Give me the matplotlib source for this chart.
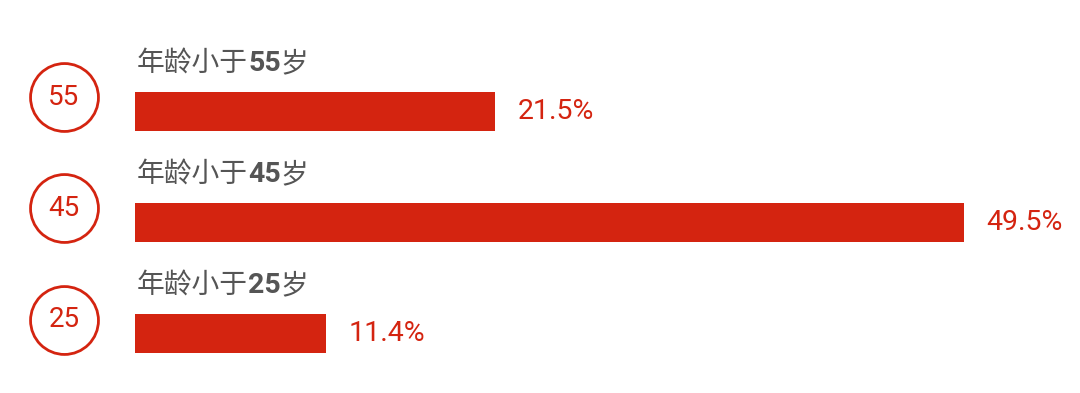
import matplotlib
matplotlib.use("Agg")
import matplotlib.pyplot as plt
from matplotlib.offsetbox import TextArea, HPacker, AnnotationBbox

# ---- data ----
ages = ["55", "45", "25"]
label_prefix = "年龄小于"
label_suffix = "岁"
values = [21.5, 49.5, 11.4]
value_labels = ["21.5%", "49.5%", "11.4%"]

# ---- style ----
RED = "#d42410"
GRAY = "#555555"
W, H, DPI = 1080, 393, 100

fig = plt.figure(figsize=(W / DPI, H / DPI), dpi=DPI)
ax = fig.add_axes([0, 0, 1, 1])
ax.set_axis_off()

# pixel layout -> data scale
x0_px = 135.0
px_per_unit = (964.0 - x0_px) / max(values)
row0_px = 111.5
row_px = 111.0
ax.set_xlim(-x0_px / px_per_unit, (W - x0_px) / px_per_unit)
ax.set_ylim((H - row0_px) / row_px, -row0_px / row_px)

ypos = list(range(len(ages)))
bar_h = 39.0 / row_px
ax.barh(ypos, values, height=bar_h, left=0, color=RED, edgecolor="none")

# percent labels
for y, v, lab in zip(ypos, values, value_labels):
    ax.annotate(lab, (v, y), xytext=(16, 0), textcoords="offset points",
                ha="left", va="center", fontsize=20.5, family="Roboto",
                color=RED)

# circles with age numbers
cx = (64 - x0_px) / px_per_unit
cdy = -14.0 / row_px
cy = [y + cdy for y in ypos]
ax.scatter([cx] * len(ages), cy, s=2390, facecolor="white",
           edgecolor=RED, linewidth=2.0, zorder=3)
for y, a in zip(cy, ages):
    ax.text(cx, y, a, ha="center", va="center", fontsize=20,
            family="Roboto", color=RED, zorder=4)

# category labels: normal CJK text with bold digits
ldy = -48.5 / row_px
lx = 2.0 / px_per_unit
for y, a in zip(ypos, ages):
    cjk = dict(family=["Noto Sans CJK SC", "DejaVu Sans"], size=20, color=GRAY)
    num = dict(family="Roboto", weight="bold", size=20.5, color=GRAY)
    box = HPacker(children=[TextArea(label_prefix, textprops=cjk),
                            TextArea(a, textprops=num),
                            TextArea(label_suffix, textprops=cjk)],
                  sep=0, pad=0, align="baseline")
    ab = AnnotationBbox(box, (lx, y + ldy), xycoords="data",
                        box_alignment=(0, 0.5), frameon=False, pad=0)
    ax.add_artist(ab)

fig.savefig("out.png", dpi=DPI, facecolor="white")
